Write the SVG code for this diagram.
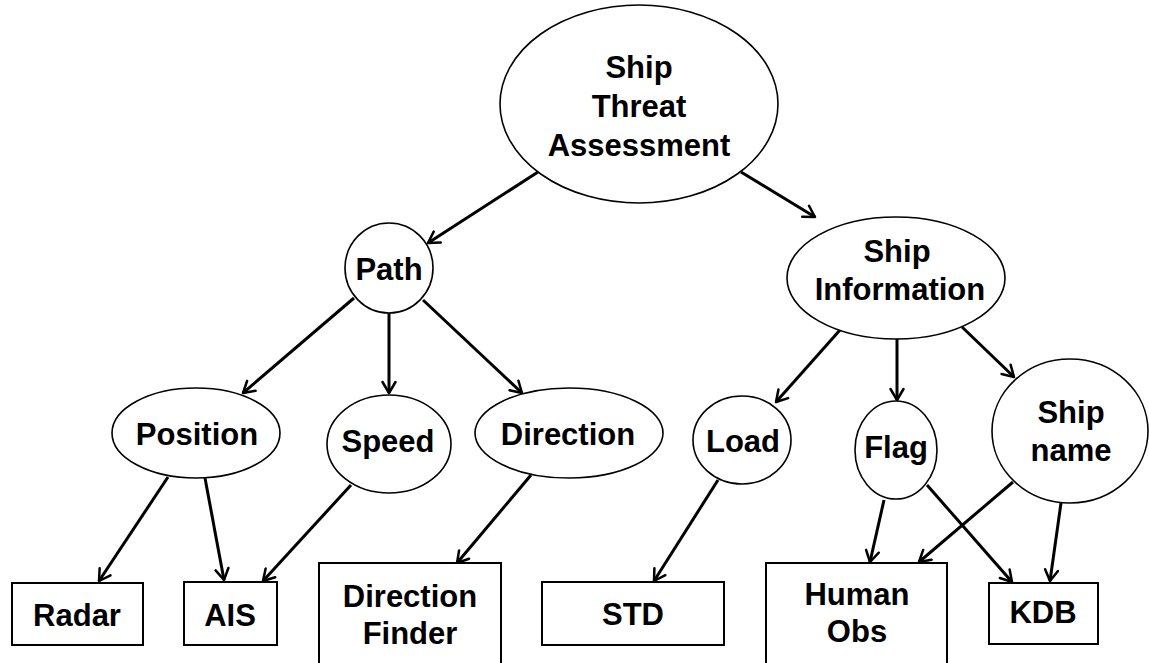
<svg xmlns="http://www.w3.org/2000/svg" width="1149" height="663" viewBox="0 0 1149 663">
<defs>
<style>
.n{fill:#fff;stroke:#000;stroke-width:1.6}
.b{fill:#fff;stroke:#000;stroke-width:2}
.t{font-family:"Liberation Sans",Arial,Helvetica,sans-serif;font-weight:bold;font-size:31px;fill:#000;text-anchor:middle}
.e{stroke:#000;stroke-width:3;fill:none;marker-end:url(#ah)}
</style>
<marker id="ah" markerUnits="userSpaceOnUse" markerWidth="16" markerHeight="16" viewBox="0 0 16 16" refX="14" refY="8" orient="auto">
<path d="M3,1.5 L14,8 L3,14.5" fill="none" stroke="#000" stroke-width="2.5" stroke-linecap="round" stroke-linejoin="round"/>
</marker>
</defs>
<rect width="1149" height="663" fill="#fff"/>
<g id="connectors">
<line class="e" x1="538" y1="172" x2="428" y2="243"/>
<line class="e" x1="741" y1="172" x2="815" y2="217"/>
<line class="e" x1="354" y1="298" x2="243" y2="393"/>
<line class="e" x1="389" y1="313" x2="389" y2="393"/>
<line class="e" x1="423" y1="300" x2="522" y2="393"/>
<line class="e" x1="840" y1="330" x2="776" y2="402"/>
<line class="e" x1="897" y1="339" x2="897" y2="400"/>
<line class="e" x1="962" y1="327" x2="1014" y2="377"/>
<line class="e" x1="168" y1="477" x2="99" y2="581"/>
<line class="e" x1="205" y1="478" x2="224" y2="580"/>
<line class="e" x1="351" y1="485" x2="263" y2="581"/>
<line class="e" x1="531" y1="475" x2="457" y2="563"/>
<line class="e" x1="718" y1="480" x2="654" y2="581"/>
<line class="e" x1="884" y1="500" x2="870" y2="562"/>
<line class="e" x1="927" y1="485" x2="1012" y2="582"/>
<line class="e" x1="1013" y1="482" x2="919" y2="562"/>
<line class="e" x1="1061" y1="503" x2="1050" y2="581"/>
</g>
<g id="node-threat">
<ellipse class="n" cx="639" cy="104" rx="139" ry="99"/>
<text class="t" x="639" y="78">Ship</text>
<text class="t" x="639" y="117">Threat</text>
<text class="t" x="639" y="156">Assessment</text>
</g>
<g id="node-path">
<ellipse class="n" cx="389" cy="268" rx="44" ry="45"/>
<text class="t" x="389" y="280">Path</text>
</g>
<g id="node-shipinfo">
<ellipse class="n" cx="896" cy="278" rx="109" ry="61"/>
<text class="t" x="897" y="262">Ship</text>
<text class="t" x="900" y="300">Information</text>
</g>
<g id="node-position">
<ellipse class="n" cx="196" cy="433" rx="84" ry="45"/>
<text class="t" x="197" y="445">Position</text>
</g>
<g id="node-speed">
<ellipse class="n" cx="389" cy="444" rx="62" ry="49"/>
<text class="t" x="388" y="452">Speed</text>
</g>
<g id="node-direction">
<ellipse class="n" cx="569" cy="433" rx="94" ry="45"/>
<text class="t" x="568" y="445">Direction</text>
</g>
<g id="node-load">
<ellipse class="n" cx="742" cy="440" rx="49" ry="44"/>
<text class="t" x="743" y="452">Load</text>
</g>
<g id="node-flag">
<ellipse class="n" cx="896" cy="450" rx="41" ry="49"/>
<text class="t" x="896" y="458">Flag</text>
</g>
<g id="node-shipname">
<ellipse class="n" cx="1070" cy="431" rx="78" ry="72"/>
<text class="t" x="1071" y="423">Ship</text>
<text class="t" x="1071" y="461">name</text>
</g>
<g id="node-radar">
<rect class="b" x="12" y="583" width="131" height="62"/>
<text class="t" x="77" y="626">Radar</text>
</g>
<g id="node-ais">
<rect class="b" x="184" y="582" width="93" height="63"/>
<text class="t" x="230" y="626">AIS</text>
</g>
<g id="node-df">
<rect class="b" x="319" y="563" width="182" height="120"/>
<text class="t" x="410" y="607">Direction</text>
<text class="t" x="410" y="644">Finder</text>
</g>
<g id="node-std">
<rect class="b" x="542" y="582" width="182" height="63"/>
<text class="t" x="633" y="625">STD</text>
</g>
<g id="node-humanobs">
<rect class="b" x="766" y="563" width="181" height="120"/>
<text class="t" x="857" y="605">Human</text>
<text class="t" x="857" y="642">Obs</text>
</g>
<g id="node-kdb">
<rect class="b" x="989" y="583" width="109" height="61"/>
<text class="t" x="1043" y="623">KDB</text>
</g>
</svg>
